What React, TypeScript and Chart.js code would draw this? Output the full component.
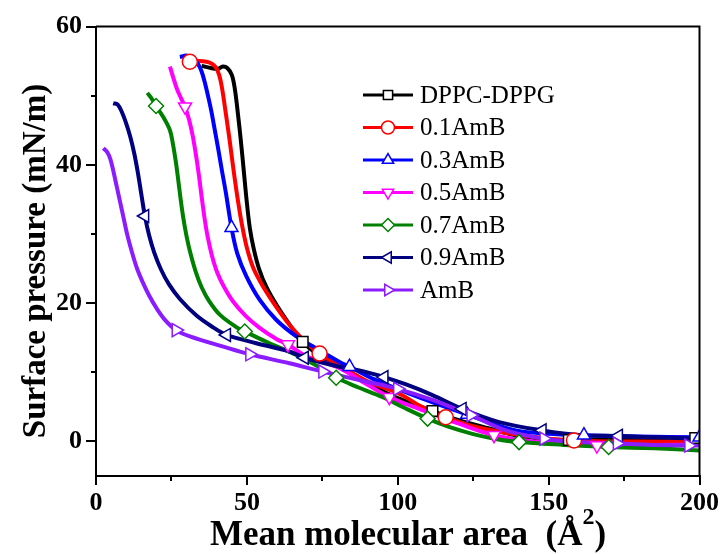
import { useEffect, useRef } from 'react';
import { Chart, registerables } from 'chart.js';
import { drawPoint } from 'chart.js/helpers';

Chart.register(...registerables);

const FONT = "'Liberation Serif', 'Times New Roman', serif";

// ---- axis ticks ----
const xMajorTicks = [0, 50, 100, 150, 200];
const xMinorTicks = [25, 75, 125, 175];
const yMajorTicks = [0, 20, 40, 60];
const yMinorTicks = [10, 30, 50];

// ---- series names ----
const seriesNames = ['DPPC-DPPG', '0.1AmB', '0.3AmB', '0.5AmB', '0.7AmB', '0.9AmB', 'AmB'];

// ---- curve data (x: mean molecular area, y: surface pressure) ----
const dppcX = [35, 38, 40.5, 42, 43.5, 45, 46, 47, 48, 49, 50, 51, 52.3, 54, 56.5, 60, 64, 68.5, 74, 80.7, 90, 97.2, 104, 111.5, 120, 130, 139.1, 148, 156.7, 170, 185, 200];
const dppcY = [54.3, 54.0, 53.9, 54.2, 54.0, 53.0, 51.0, 47.5, 43.5, 39.0, 34.5, 30.8, 27.8, 25.0, 22.3, 19.6, 17.0, 14.4, 12.4, 10.8, 8.5, 6.8, 5.6, 4.4, 3.1, 1.9, 0.9, 0.4, 0.2, 0.3, 0.4, 0.5];

const amb01X = [31.1, 34.4, 37.5, 39.5, 40.8, 41.8, 43, 44.3, 45.5, 46.8, 48.3, 50, 52.2, 55.5, 59.5, 63.5, 68, 74.1, 80.7, 90, 100.5, 108, 115.9, 125, 139.1, 150, 158.4, 175, 200];
const amb01Y = [54.9, 55.0, 54.8, 54.2, 53.0, 51.0, 47.5, 43.5, 39.5, 35.5, 31.5, 28.0, 25.0, 22.3, 19.6, 17.2, 15.0, 12.7, 11.0, 8.7, 6.9, 5.0, 3.5, 2.2, 1.0, 0.4, 0.15, 0.0, 0.0];

const amb03X = [27.8, 30, 32, 33.8, 35, 36, 37.1, 38.2, 39.3, 40.5, 41.8, 43.1, 44.9, 46.8, 49.8, 54.2, 59.7, 66.4, 74, 80.7, 84, 92, 100.5, 110, 120.3, 130, 139.1, 150, 161.7, 180, 200];
const amb03Y = [55.6, 55.8, 55.4, 54.6, 53.5, 52.0, 50.0, 47.8, 45.2, 42.3, 39.0, 35.8, 30.9, 27.2, 23.9, 20.5, 17.6, 15.2, 13.2, 11.5, 10.8, 9.0, 7.5, 5.9, 4.3, 2.8, 1.6, 1.1, 0.9, 0.7, 0.6];

const amb05X = [24.5, 25.6, 26.8, 28.2, 29.5, 30.8, 32, 33.1, 34.1, 35, 35.9, 37, 38.4, 40.2, 42.5, 45.5, 49.5, 54, 59.8, 63.6, 69.8, 80.7, 90, 97.2, 104, 111.5, 120, 131.9, 145, 166, 185, 200];
const amb05Y = [54.2, 52.6, 51.0, 49.6, 48.4, 46.6, 44.3, 41.5, 38.5, 35.4, 32.5, 29.6, 26.9, 24.4, 22.3, 20.2, 18.2, 16.5, 14.8, 14.0, 12.3, 10.6, 8.2, 6.4, 5.2, 4.0, 2.6, 0.9, 0.0, -0.6, -0.5, -0.5];

const amb07X = [17, 18.4, 19.9, 22.3, 24.5, 25.5, 26.4, 27.2, 28, 28.9, 30, 31.3, 33, 35, 37.5, 41.1, 46.6, 49.3, 57.5, 66.4, 77.4, 79.6, 87, 95, 102, 109.9, 117, 124.7, 132, 140.2, 155, 169.9, 185, 200];
const amb07Y = [50.4, 49.6, 48.5, 46.9, 45.0, 43.0, 40.6, 38.0, 35.2, 32.4, 29.7, 27.2, 24.6, 22.3, 20.3, 18.3, 16.5, 15.9, 14.2, 12.5, 9.9, 9.2, 7.8, 6.4, 4.9, 3.3, 2.1, 1.1, 0.4, -0.1, -0.5, -0.8, -1.0, -1.3];

const amb09X = [5.7, 7.2, 8.6, 10, 11.4, 12.7, 13.9, 15, 16.2, 17.6, 19.3, 21.5, 24.2, 27.8, 33.3, 38.8, 43.3, 53.1, 64.1, 69.1, 80.7, 88, 95.5, 103, 111.5, 121.4, 133.6, 147.9, 161.1, 173.2, 185, 200];
const amb09Y = [48.9, 48.7, 47.6, 46.0, 44.0, 41.6, 38.8, 35.8, 32.6, 29.8, 27.3, 24.9, 22.7, 20.6, 18.2, 16.5, 15.4, 14.2, 13.0, 12.1, 10.8, 10.2, 9.3, 8.2, 6.7, 4.7, 2.8, 1.6, 0.9, 0.8, 0.6, 0.4];

const ambX = [2.4, 3.6, 4.7, 5.8, 6.9, 8, 9.1, 10.4, 11.9, 13.6, 15.5, 17.6, 20, 23, 26.5, 31.1, 42.2, 50.9, 64.1, 75.1, 88, 99.9, 111.5, 124.2, 135.8, 148.4, 160, 172.7, 185, 196.4, 200];
const ambY = [42.4, 41.9, 40.9, 39.0, 36.8, 34.6, 32.4, 29.8, 27.4, 25.0, 23.0, 21.1, 19.3, 17.5, 16.1, 15.2, 13.7, 12.6, 11.3, 10.1, 8.8, 7.6, 6.0, 3.8, 1.6, 0.4, -0.1, -0.3, -0.5, -0.6, -0.6];

// ---- marker (symbol) positions ----
const dppcMarkX = [68.5, 111.5, 156.7, 198.6];
const dppcMarkY = [14.4, 4.4, 0.2, 0.5];
const amb01MarkX = [31.1, 74.1, 115.9, 158.4];
const amb01MarkY = [54.9, 12.7, 3.5, 0.15];
const amb03MarkX = [44.9, 84, 123, 161.7, 200];
const amb03MarkY = [30.9, 10.8, 3.9, 0.9, 0.6];
const amb05MarkX = [29.5, 63.6, 97.2, 131.9, 166];
const amb05MarkY = [48.4, 14.0, 6.4, 0.9, -0.6];
const amb07MarkX = [19.9, 49.3, 79.6, 109.9, 140.2, 169.9];
const amb07MarkY = [48.5, 15.9, 9.2, 3.3, -0.1, -0.8];
const amb09MarkX = [16.2, 43.3, 69.1, 95.5, 121.4, 147.9, 173.2];
const amb09MarkY = [32.6, 15.4, 12.1, 9.3, 4.7, 1.6, 0.8];
const ambMarkX = [26.5, 50.9, 75.1, 99.9, 124.2, 148.4, 172.7, 196.4];
const ambMarkY = [16.1, 12.6, 10.1, 7.6, 3.8, 0.4, -0.3, -0.6];

const curveXs = [dppcX, amb01X, amb03X, amb05X, amb07X, amb09X, ambX];
const curveYs = [dppcY, amb01Y, amb03Y, amb05Y, amb07Y, amb09Y, ambY];
const markXs = [dppcMarkX, amb01MarkX, amb03MarkX, amb05MarkX, amb07MarkX, amb09MarkX, ambMarkX];
const markYs = [dppcMarkY, amb01MarkY, amb03MarkY, amb05MarkY, amb07MarkY, amb09MarkY, ambMarkY];

// ---- styles ----
const colors = ['#000000', '#ff0000', '#0000ff', '#ff00ff', '#008000', '#000080', '#8b1cff'];
const pointStyles = ['rect', 'circle', 'triangle', 'triangle', 'rectRot', 'triangle', 'triangle'];
const rotations = [0, 0, 0, 180, 0, -90, 90];

const zip = (xs: number[], ys: number[]) => xs.map((x, i) => ({ x, y: ys[i] }));

const customPlugin = {
  id: 'customDecor',
  afterDraw(chart: any) {
    const { ctx, chartArea: a, scales } = chart;
    const xs = scales.x;
    const ys = scales.y;
    ctx.save();
    // frame top & right
    ctx.strokeStyle = '#000';
    ctx.lineWidth = 2;
    ctx.beginPath();
    ctx.moveTo(a.left, a.top);
    ctx.lineTo(a.right, a.top);
    ctx.lineTo(a.right, a.bottom);
    ctx.stroke();
    // minor ticks
    ctx.beginPath();
    xMinorTicks.forEach((v) => {
      const px = Math.round(xs.getPixelForValue(v));
      ctx.moveTo(px, a.bottom);
      ctx.lineTo(px, a.bottom + 5);
    });
    yMinorTicks.forEach((v) => {
      const py = Math.round(ys.getPixelForValue(v));
      ctx.moveTo(a.left - 5, py);
      ctx.lineTo(a.left, py);
    });
    ctx.stroke();

    // legend
    const lx0 = 363, lx1 = 413, ly0 = 95, lstep = 32.5;
    seriesNames.forEach((name, i) => {
      const yy = ly0 + i * lstep;
      ctx.strokeStyle = colors[i];
      ctx.lineWidth = 3;
      ctx.beginPath();
      ctx.moveTo(lx0, yy);
      ctx.lineTo(lx1, yy);
      ctx.stroke();
      ctx.fillStyle = '#ffffff';
      ctx.strokeStyle = colors[i];
      ctx.lineWidth = 1.5;
      drawPoint(ctx, { pointStyle: pointStyles[i], rotation: rotations[i], radius: 6.5, borderWidth: 1.5 } as any, (lx0 + lx1) / 2, yy);
      ctx.fillStyle = '#000';
      ctx.font = `25px ${FONT}`;
      ctx.textAlign = 'left';
      ctx.textBaseline = 'middle';
      ctx.fillText(name, 420, yy + 1);
    });

    // y title
    ctx.fillStyle = '#000';
    ctx.font = `bold 33px ${FONT}`;
    ctx.save();
    ctx.translate(45, 261);
    ctx.rotate(-Math.PI / 2);
    ctx.textAlign = 'center';
    ctx.textBaseline = 'alphabetic';
    ctx.fillText('Surface pressure (mN/m)', 0, 0);
    ctx.restore();

    // x title with superscript
    const main = 'Mean molecular area  (Å';
    const sup = '2';
    const close = ')';
    ctx.font = `bold 35px ${FONT}`;
    const wMain = ctx.measureText(main).width;
    const wClose = ctx.measureText(close).width;
    ctx.font = `bold 24px ${FONT}`;
    const wSup = ctx.measureText(sup).width;
    const total = wMain + wSup + wClose;
    let sx = 408 - total / 2;
    const base = 545;
    ctx.textAlign = 'left';
    ctx.textBaseline = 'alphabetic';
    ctx.font = `bold 35px ${FONT}`;
    ctx.fillText(main, sx, base);
    sx += wMain;
    ctx.font = `bold 24px ${FONT}`;
    ctx.fillText(sup, sx, base - 21);
    sx += wSup;
    ctx.font = `bold 35px ${FONT}`;
    ctx.fillText(close, sx, base);
    ctx.restore();
  },
};

export default function App() {
  const ref = useRef<HTMLCanvasElement | null>(null);

  useEffect(() => {
    document.body.style.margin = '0';
    const canvas = ref.current;
    if (!canvas) return;

    const lineSets = seriesNames.map((name, i) => ({
      type: 'line' as const,
      label: name,
      data: zip(curveXs[i], curveYs[i]),
      borderColor: colors[i],
      borderWidth: 4,
      pointRadius: 0,
      pointHoverRadius: 0,
      fill: false,
      showLine: true,
      tension: 0.35,
      order: 100 - i,
    }));
    const markSets = seriesNames.map((name, i) => ({
      type: 'scatter' as const,
      label: name + ' markers',
      data: zip(markXs[i], markYs[i]),
      borderColor: colors[i],
      backgroundColor: '#ffffff',
      borderWidth: 1.5,
      pointStyle: pointStyles[i],
      rotation: rotations[i],
      pointRadius: 7.5,
      showLine: false,
      order: 50 - i,
    }));

    const chart = new Chart(canvas, {
      type: 'scatter',
      data: { datasets: [...lineSets, ...markSets] as any },
      options: {
        responsive: false,
        animation: false,
        layout: { padding: { top: 26.5, right: 22, left: 0, bottom: 0 } },
        plugins: { legend: { display: false }, tooltip: { enabled: false } },
        scales: {
          x: {
            type: 'linear',
            min: 0,
            max: 200,
            afterBuildTicks: (s: any) => {
              s.ticks = xMajorTicks.map((v) => ({ value: v }));
            },
            afterFit: (s: any) => {
              s.height = 78;
            },
            grid: { drawOnChartArea: false, drawTicks: true, tickLength: 9, color: '#000', lineWidth: 2 },
            border: { display: true, color: '#000', width: 2 },
            ticks: { color: '#000', font: { family: FONT, size: 26, weight: 'bold' }, padding: 3, maxRotation: 0 },
          },
          y: {
            type: 'linear',
            min: -5,
            max: 60,
            afterBuildTicks: (s: any) => {
              s.ticks = yMajorTicks.map((v) => ({ value: v }));
            },
            afterFit: (s: any) => {
              s.width = 96;
            },
            grid: { drawOnChartArea: false, drawTicks: true, tickLength: 10, color: '#000', lineWidth: 2 },
            border: { display: true, color: '#000', width: 2 },
            ticks: { color: '#000', font: { family: FONT, size: 26, weight: 'bold' }, padding: 4 },
          },
        },
      },
      plugins: [customPlugin],
    });

    return () => chart.destroy();
  }, []);

  return (
    <div style={{ width: 722, height: 554 }}>
      <canvas ref={ref} width={722} height={554} style={{ display: 'block' }} />
    </div>
  );
}
